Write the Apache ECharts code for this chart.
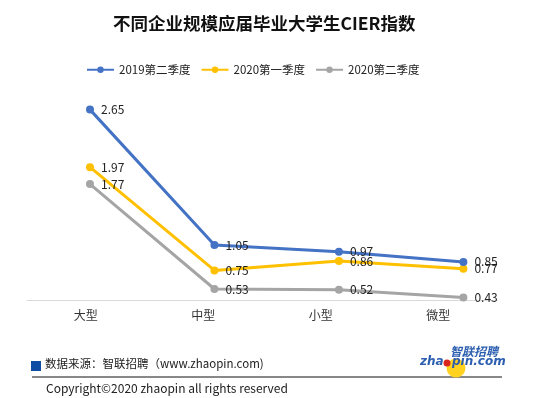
<!DOCTYPE html>
<html><head><meta charset="utf-8">
<script src="https://cdn.jsdelivr.net/npm/echarts@6/dist/echarts.min.js"></script>
<style>html,body{margin:0;padding:0;background:#fff}#c{width:554px;height:398px}</style>
</head><body><div id="c"></div>
<script>
const categories = ['大型', '中型', '小型', '微型'];
const seriesNames = ['2019第二季度', '2020第一季度', '2020第二季度'];
const s2019q2 = [2.65, 1.05, 0.97, 0.85];
const s2020q1 = [1.97, 0.75, 0.86, 0.77];
const s2020q2 = [1.77, 0.53, 0.52, 0.43];
const colors = ['#4472C4', '#FFC000', '#A5A5A5'];

const font = '"Microsoft YaHei","Noto Sans CJK SC",sans-serif';
const chart = echarts.init(document.getElementById('c'));
const toPairs = arr => arr.map((v, i) => [i, v]);
const mk = (name, data, color) => ({
  name, type: 'line', xAxisIndex: 1, data: toPairs(data),
  symbol: 'circle', symbolSize: 8,
  lineStyle: { width: 3, color }, itemStyle: { color },
  label: { show: true, position: 'right', distance: 7, color: '#222', fontSize: 12, fontFamily: font },
  z: 3
});
chart.setOption({
  animation: false,
  title: { text: '不同企业规模应届毕业大学生CIER指数', left: 108, top: 10,
    textStyle: { fontSize: 17.5, fontWeight: 'bold', color: '#111', fontFamily: font } },
  legend: { top: 59, left: 81, itemWidth: 27, itemHeight: 8, itemGap: 10,
    textStyle: { fontSize: 11.5, color: '#222', fontFamily: font }, data: seriesNames },
  grid: { left: 27, right: 57, top: 80, bottom: 98 },
  xAxis: [
    { type: 'category', data: categories, axisLine: { lineStyle: { color: '#d9d9d9' } },
      axisTick: { show: false }, axisLabel: { color: '#333', fontSize: 12, margin: 9, fontFamily: font } },
    { type: 'value', min: -0.506, max: 3.27, show: false }
  ],
  yAxis: { type: 'value', min: 0.4, max: 3.0, show: false, splitLine: { show: false } },
  series: [
    mk(seriesNames[2], s2020q2, colors[2]),
    mk(seriesNames[1], s2020q1, colors[1]),
    mk(seriesNames[0], s2019q2, colors[0])
  ],
  graphic: [
    { type: 'rect', shape: { x: 31, y: 361, width: 10, height: 10 }, style: { fill: '#0E4DA4' } },
    { type: 'text', style: { x: 45, y: 364, text: '数据来源：智联招聘（www.zhaopin.com)', fill: '#222', font: '11.5px ' + font, textVerticalAlign: 'middle' } },
    { type: 'line', shape: { x1: 32, y1: 377, x2: 502, y2: 377 }, style: { stroke: '#111', lineWidth: 1 } },
    { type: 'text', style: { x: 46, y: 388, text: 'Copyright©2020 zhaopin all rights reserved', fill: '#222', font: '12px ' + font, textVerticalAlign: 'middle' } },
    { type: 'circle', shape: { cx: 456, cy: 368, r: 9.5 }, style: { fill: '#FFD21F' } },
    { type: 'text', style: { x: 450, y: 351, text: '智联招聘', fill: '#2D5FB0', font: 'italic bold 12px ' + font, textVerticalAlign: 'middle' } },
    { type: 'text', style: { x: 420, y: 362, text: 'zha', fill: '#2D5FB0', font: 'italic bold 12px "DejaVu Sans",sans-serif', textVerticalAlign: 'middle' } },
    { type: 'circle', shape: { cx: 447, cy: 363, r: 3.5 }, style: { fill: '#D9261C' } },
    { type: 'text', style: { x: 452, y: 362, text: 'pin.com', fill: '#2D5FB0', font: 'italic bold 12px "DejaVu Sans",sans-serif', textVerticalAlign: 'middle' } }
  ]
});
</script></body></html>
